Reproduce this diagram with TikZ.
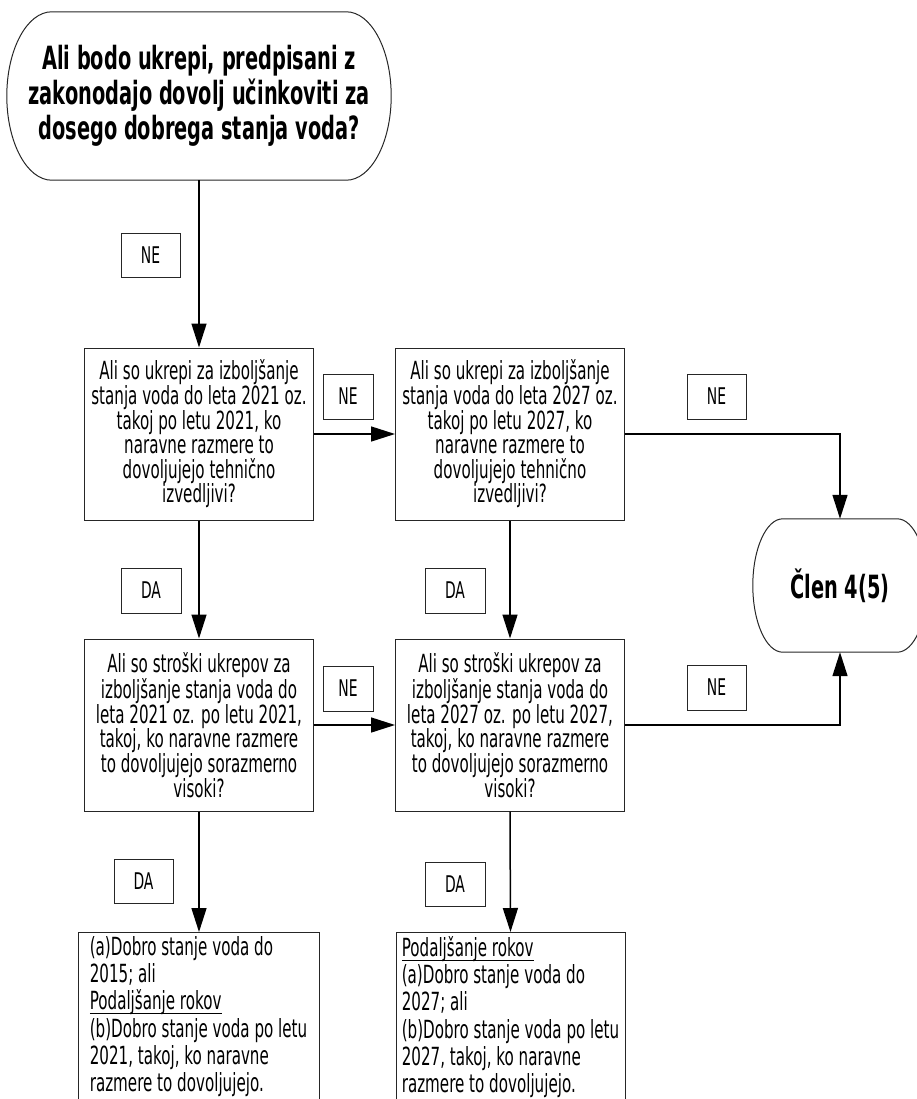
\documentclass[tikz,border=0pt]{standalone}
\usepackage{fontspec}
\setmainfont{DejaVu Sans}[FakeStretch=0.605]
\usetikzlibrary{arrows.meta, calc}
\tikzset{
  term/.style    = {rectangle, inner sep=0pt, minimum width=384pt,
                    minimum height=168pt, align=center,
                    font=\bfseries\fontsize{32}{35}\selectfont},
  termline/.style = {draw=black!85, line width=1pt},
  query/.style   = {rectangle, draw=black!85, line width=1pt,
                    minimum width=229pt, minimum height=172pt, inner sep=2pt,
                    align=center, font=\fontsize{25}{24.6}\selectfont},
  outcome/.style = {rectangle, draw=black!85, line width=1pt, anchor=north,
                    minimum width=229pt, inner xsep=3pt, inner ysep=4pt,
                    align=left, font=\fontsize{25}{27.2}\selectfont},
  answer/.style  = {rectangle, draw=black!85, line width=0.8pt,
                    minimum width=59pt, minimum height=44pt, inner sep=0pt,
                    font=\fontsize{23}{23}\selectfont},
  flow/.style    = {-{Triangle[length=24pt,width=15pt]}, line width=1.5pt},
}
% outline of a terminal node with half-elliptic ends
\newcommand{\termoutline}[2]{%
  \draw[termline] let \p1=(#1.north), \p2=(#1.south), \n1={0.5*(\y1-\y2)} in
    ([xshift=#2]#1.north west) -- ([xshift=-#2]#1.north east)
    arc[start angle=90, end angle=-90, x radius=#2, y radius=\n1]
    -- ([xshift=#2]#1.south west)
    arc[start angle=270, end angle=90, x radius=#2, y radius=\n1] -- cycle;}
% underline close to the baseline
\newcommand{\undl}[1]{\leavevmode\setbox0=\hbox{#1}\rlap{\rule[-4pt]{\wd0}{0.9pt}}\box0}

\begin{document}
\begin{tikzpicture}[x=1pt, y=-1pt]
  \useasboundingbox (0,0) rectangle (917,1099);
  \clip (0,0) rectangle (917,1099);

  % terminals
  \node[term] (start) at (199,96) {Ali bodo ukrepi, predpisani z\\zakonodajo dovolj učinkoviti za\\dosego dobrega stanja voda?};
  \node[term, minimum width=174pt, minimum height=133pt] (clen) at (840,585.5) {Člen 4(5)};
  \termoutline{start}{45pt}
  \termoutline{clen}{30pt}

  % questions
  \node[query] (tech21) at (199,434) {Ali so ukrepi za izboljšanje\\stanja voda do leta 2021 oz.\\takoj po letu 2021, ko\\naravne razmere to\\dovoljujejo tehnično\\izvedljivi?};
  \node[query] (tech27) at (510,434) {Ali so ukrepi za izboljšanje\\stanja voda do leta 2027 oz.\\takoj po letu 2027, ko\\naravne razmere to\\dovoljujejo tehnično\\izvedljivi?};
  \node[query] (cost21) at (199,725) {Ali so stroški ukrepov za\\izboljšanje stanja voda do\\leta 2021 oz. po letu 2021,\\takoj, ko naravne razmere\\to dovoljujejo sorazmerno\\visoki?};
  \node[query] (cost27) at (510,725) {Ali so stroški ukrepov za\\izboljšanje stanja voda do\\leta 2027 oz. po letu 2027,\\takoj, ko naravne razmere\\to dovoljujejo sorazmerno\\visoki?};

  % outcomes
  \node[outcome, minimum width=241pt] (out21) at (198.5,932) {(a)Dobro stanje voda do\\2015; ali\\\undl{Podaljšanje rokov}\\(b)Dobro stanje voda po letu\\2021, takoj, ko naravne\\razmere to dovoljujejo.};
  \node[outcome] (out27) at (510.5,932) {\undl{Podaljšanje rokov}\\(a)Dobro stanje voda do\\2027; ali\\(b)Dobro stanje voda po letu\\2027, takoj, ko naravne\\razmere to dovoljujejo.};

  % answers
  \node[answer] (ne0) at (150.5,255) {NE};
  \node[answer, minimum width=50pt, minimum height=45pt] (ne1) at (348,396.5) {NE};
  \node[answer, minimum height=45pt] (ne2) at (716.5,396.5) {NE};
  \node[answer, minimum width=50pt, minimum height=45pt] (ne3) at (348,688.5) {NE};
  \node[answer, minimum height=45pt] (ne4) at (716.5,687.5) {NE};
  \node[answer, minimum width=60pt, minimum height=45pt] (da1) at (151,590.5) {DA};
  \node[answer, minimum width=60pt, minimum height=45pt] (da2) at (455,590.5) {DA};
  \node[answer] (da3) at (143.5,881) {DA};
  \node[answer, minimum width=60pt] (da4) at (455,884) {DA};

  % connectors
  \draw[flow] (start.south) -- (tech21.north);
  \draw[flow] (tech21.east) -- (tech27.west);
  \draw[flow] (tech27.east) -| (clen.north);
  \draw[flow] (tech21.south) -- (cost21.north);
  \draw[flow] (tech27.south) -- (cost27.north);
  \draw[flow] (cost21.east) -- (cost27.west);
  \draw[flow] (cost27.east) -| (clen.south);
  \draw[flow] (cost21.south) -- (cost21.south |- out21.north);
  \draw[flow] (cost27.south) -- (out27.north);
\end{tikzpicture}
\end{document}
